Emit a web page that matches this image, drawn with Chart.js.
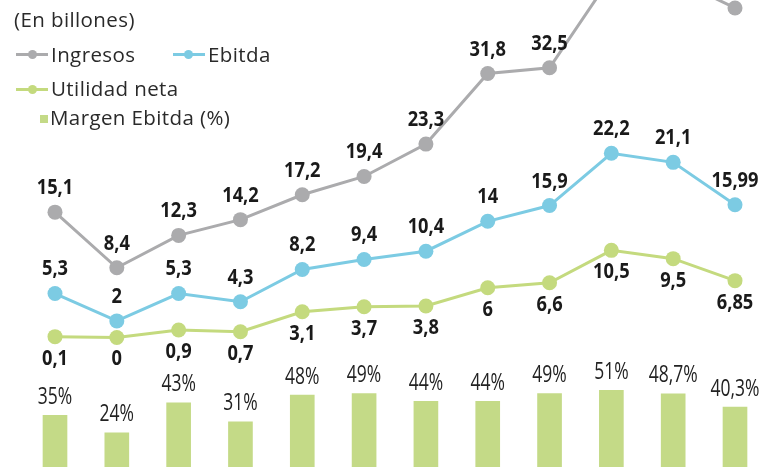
<!DOCTYPE html>
<html lang="es">
<head>
    <meta charset="UTF-8">
    <title>Ingresos, Ebitda y Utilidad neta</title>
    <script src="https://cdn.jsdelivr.net/npm/chart.js"></script>
    <style>
        body {
            margin: 0;
            background-color: #ffffff;
            font-family: "Open Sans", Lato, sans-serif;
        }
        .wrap {
            position: relative;
            width: 763px;
            height: 467px;
            overflow: hidden;
        }
        canvas {
            position: absolute;
            left: 0;
            top: 0;
        }
        .txt {
            position: absolute;
            font-size: 20.5px;
            line-height: 20px;
            letter-spacing: 0.4px;
            color: #2a2a2a;
            white-space: nowrap;
        }
        .icon-line {
            position: absolute;
            width: 32px;
            height: 3px;
        }
        .icon-dot {
            position: absolute;
            width: 9px;
            height: 9px;
            border-radius: 50%;
        }
        .icon-box {
            position: absolute;
            width: 8px;
            height: 8px;
        }
    </style>
</head>
<body>
    <div class="wrap">
        <canvas id="chart" width="763" height="467"></canvas>

        <div class="txt" style="left:14px; top:9px;">(En billones)</div>

        <div class="icon-line" style="left:16px; top:53px; background:#ababad;"></div>
        <div class="icon-dot" style="left:28px; top:50px; background:#ababad;"></div>
        <div class="txt" style="left:51px; top:44px;">Ingresos</div>

        <div class="icon-line" style="left:173px; top:53px; background:#7ccbe3;"></div>
        <div class="icon-dot" style="left:184px; top:50px; background:#7ccbe3;"></div>
        <div class="txt" style="left:208px; top:44px;">Ebitda</div>

        <div class="icon-line" style="left:16px; top:88px; background:#c4da7e;"></div>
        <div class="icon-dot" style="left:28px; top:85px; background:#c4da7e;"></div>
        <div class="txt" style="left:51px; top:78px;">Utilidad neta</div>

        <div class="icon-box" style="left:40px; top:115px; background:#c4da87;"></div>
        <div class="txt" style="left:50px; top:107px;">Margen Ebitda (%)</div>
    </div>

    <script>
        // 12 periodos (las etiquetas del eje quedan fuera del recorte)
        const periodos = ["1", "2", "3", "4", "5", "6", "7", "8", "9", "10", "11", "12"];

        // valores en billones
        const ingresos = [15.1, 8.4, 12.3, 14.2, 17.2, 19.4, 23.3, 31.8, 32.5, 43.5, 43.3, 39.7];
        const ebitda = [5.3, 2, 5.3, 4.3, 8.2, 9.4, 10.4, 14, 15.9, 22.2, 21.1, 15.99];
        const utilidadNeta = [0.1, 0, 0.9, 0.7, 3.1, 3.7, 3.8, 6, 6.6, 10.5, 9.5, 6.85];

        // margen ebitda en %
        const margenEbitda = [35, 24, 43, 31, 48, 49, 44, 44, 49, 51, 48.7, 40.3];

        function fmt(v) {
            return String(v).replace('.', ',');
        }

        // etiquetas de valor sobre / bajo cada punto (texto algo comprimido, como el original)
        const valueLabels = {
            id: 'valueLabels',
            afterDatasetsDraw(chart) {
                const ctx = chart.ctx;
                chart.data.datasets.forEach((ds, i) => {
                    const meta = chart.getDatasetMeta(i);
                    const lbl = ds.labelStyle;
                    meta.data.forEach((el, j) => {
                        const text = fmt(ds.data[j]) + (lbl.suffix || '');
                        ctx.save();
                        ctx.translate(el.x, el.y + lbl.dy);
                        ctx.scale(lbl.squeeze, 1);
                        ctx.font = lbl.font;
                        ctx.fillStyle = lbl.color;
                        ctx.textAlign = 'center';
                        ctx.textBaseline = 'middle';
                        ctx.fillText(text, 0, 0);
                        ctx.restore();
                    });
                });
            }
        };

        const boldFont = "bold 21px 'Open Sans', sans-serif";
        const pctFont = "23px 'Open Sans', sans-serif";

        new Chart(document.getElementById('chart'), {
            type: 'bar',
            data: {
                labels: periodos,
                datasets: [
                    {
                        type: 'line',
                        label: 'Ingresos',
                        data: ingresos,
                        borderColor: '#ababad',
                        backgroundColor: '#ababad',
                        borderWidth: 3,
                        pointRadius: 7.5,
                        pointBorderWidth: 0,
                        tension: 0,
                        yAxisID: 'y',
                        clip: false,
                        order: 1,
                        labelStyle: { font: boldFont, color: '#1a1a1a', dy: -24, squeeze: 0.87 }
                    },
                    {
                        type: 'line',
                        label: 'Ebitda',
                        data: ebitda,
                        borderColor: '#7ccbe3',
                        backgroundColor: '#7ccbe3',
                        borderWidth: 3,
                        pointRadius: 7.5,
                        pointBorderWidth: 0,
                        tension: 0,
                        yAxisID: 'y',
                        clip: false,
                        order: 2,
                        labelStyle: { font: boldFont, color: '#1a1a1a', dy: -24, squeeze: 0.87 }
                    },
                    {
                        type: 'line',
                        label: 'Utilidad neta',
                        data: utilidadNeta,
                        borderColor: '#c4da7e',
                        backgroundColor: '#c4da7e',
                        borderWidth: 3,
                        pointRadius: 7.5,
                        pointBorderWidth: 0,
                        tension: 0,
                        yAxisID: 'y',
                        clip: false,
                        order: 3,
                        labelStyle: { font: boldFont, color: '#1a1a1a', dy: 22, squeeze: 0.87 }
                    },
                    {
                        type: 'bar',
                        label: 'Margen Ebitda (%)',
                        data: margenEbitda,
                        backgroundColor: '#c4da87',
                        barThickness: 24,
                        yAxisID: 'yBar',
                        clip: false,
                        order: 10,
                        labelStyle: { font: pctFont, color: '#222222', dy: -18, suffix: '%', squeeze: 0.76 }
                    }
                ]
            },
            options: {
                responsive: false,
                animation: false,
                layout: {
                    autoPadding: false,
                    padding: { left: 55, right: 28, top: 0, bottom: 0 }
                },
                plugins: {
                    legend: { display: false },
                    tooltip: { enabled: false }
                },
                scales: {
                    x: { display: false, offset: false },
                    y: { display: false, min: -15.6, max: 40.66 },
                    yBar: { display: false, min: 2.17, max: 299.6 }
                }
            },
            plugins: [valueLabels]
        });
    </script>
</body>
</html>
